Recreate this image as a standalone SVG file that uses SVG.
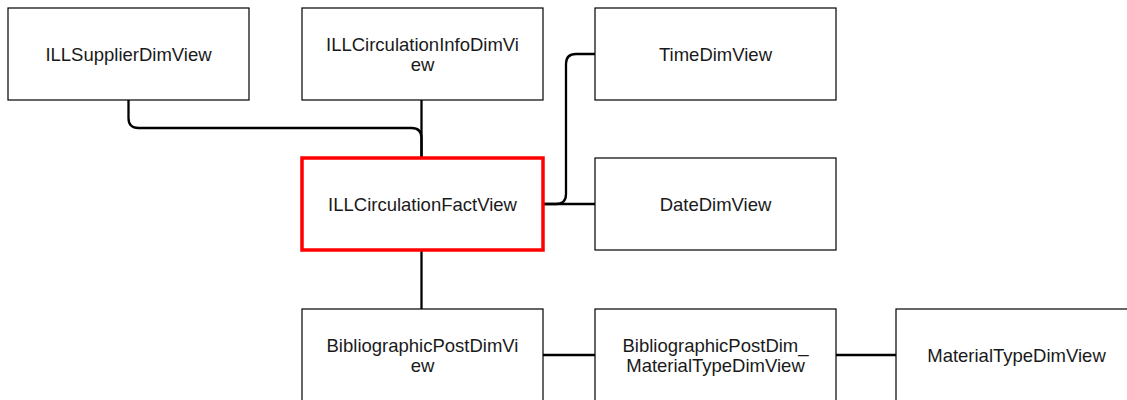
<svg xmlns="http://www.w3.org/2000/svg" width="1127" height="400" viewBox="0 0 1127 400">
<style>
.box{fill:#fff;stroke:#000;stroke-width:1.2}
.fact{fill:#fff;stroke:#f00;stroke-width:3.5}
.t{font-family:"Liberation Sans",Arial,sans-serif;font-size:18.5px;fill:#1a1a1a;text-anchor:middle}
.c{fill:none;stroke:#000;stroke-width:2.3}
</style>
<rect width="1127" height="400" fill="#fff"/>
<g id="connectors">
<path class="c" d="M128.5,100 V118 Q128.5,128 138.5,128 H411.5 Q421.5,128 421.5,138 V158"/>
<path class="c" d="M421.5,100 V158"/>
<path class="c" d="M543,204 H556 Q566,204 566,194 V64 Q566,54 576,54 H595"/>
<path class="c" d="M543,204 H595"/>
<path class="c" d="M421.5,250 V309"/>
<path class="c" d="M543,355 H595"/>
<path class="c" d="M836,355 H896"/>
</g>
<g id="ILLSupplierDimView"><rect class="box" x="8" y="8" width="241" height="92"/><text class="t" x="128.5" y="60.5">ILLSupplierDimView</text></g>
<g id="ILLCirculationInfoDimView"><rect class="box" x="302" y="8" width="241" height="92"/><text class="t" x="422.5" y="50.5">ILLCirculationInfoDimVi</text><text class="t" x="422.5" y="71">ew</text></g>
<g id="TimeDimView"><rect class="box" x="595" y="8" width="241" height="92"/><text class="t" x="715.5" y="60.5">TimeDimView</text></g>
<g id="ILLCirculationFactView"><rect class="fact" x="302" y="158" width="241" height="92"/><text class="t" x="422.5" y="210.5">ILLCirculationFactView</text></g>
<g id="DateDimView"><rect class="box" x="595" y="158" width="241" height="92"/><text class="t" x="715.5" y="210.5">DateDimView</text></g>
<g id="BibliographicPostDimView"><rect class="box" x="302" y="309" width="241" height="92"/><text class="t" x="422.5" y="351.5">BibliographicPostDimVi</text><text class="t" x="422.5" y="372">ew</text></g>
<g id="BibliographicPostDim_MaterialTypeDimView"><rect class="box" x="595" y="309" width="241" height="92"/><text class="t" x="715.5" y="351.5">BibliographicPostDim_</text><text class="t" x="715.5" y="372">MaterialTypeDimView</text></g>
<g id="MaterialTypeDimView"><rect class="box" x="896" y="309" width="241" height="92"/><text class="t" x="1016.5" y="361.5">MaterialTypeDimView</text></g>
</svg>
